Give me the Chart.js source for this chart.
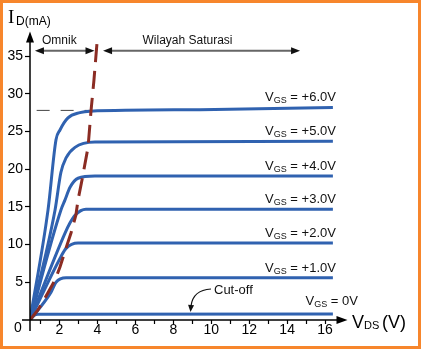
<!DOCTYPE html>
<html>
<head>
<meta charset="utf-8">
<script src="https://cdn.jsdelivr.net/npm/chart.js@4"></script>
<style>
  body { margin: 0; background: #fff; }
  #wrap { width: 422px; height: 353px; }
</style>
</head>
<body>
<div id="wrap"><canvas id="chart" width="422" height="353"></canvas></div>
<script>
// V_GS curves, [V_DS (V), I_D (mA)]
const vgsNames = ["+6.0V", "+5.0V", "+4.0V", "+3.0V", "+2.0V", "+1.0V", "0V"];
const curve6 = [[0.45, 0], [1.40, 14.6], [1.82, 23.9], [2.03, 25.2], [2.45, 26.8], [3.08, 27.5], [3.61, 27.7], [9.4, 27.9], [16.41, 28.2]];
const curve5 = [[0.45, 0], [1.77, 14.6], [2.08, 19.6], [2.35, 21.5], [2.82, 22.9], [3.87, 23.6], [16.41, 23.7]];
const curve4 = [[0.45, 0], [2.08, 14.6], [2.29, 15.9], [2.56, 17.6], [2.98, 18.8], [3.87, 19.1], [16.41, 19.1]];
const curve3 = [[0.45, 0], [2.29, 11.5], [2.56, 12.9], [2.82, 13.9], [3.40, 14.7], [16.41, 14.7]];
const curve2 = [[0.45, 0], [2.08, 8.4], [2.35, 9.5], [2.98, 10.2], [16.41, 10.2]];
const curve1 = [[0.45, 0], [1.56, 3.7], [1.82, 5.0], [2.35, 5.6], [16.41, 5.6]];
const curve0 = [[0.45, 0], [0.66, 0.6], [0.87, 0.76], [16.41, 0.8]];
const curves = [curve6, curve5, curve4, curve3, curve2, curve1, curve0];

// pinch-off boundary (dashed brown)
const pinchOff = [[0.45, 0], [0.87, 1.33], [1.24, 2.92], [1.77, 5.31], [2.03, 7.03], [2.35, 9.55], [2.61, 11.54],
  [2.87, 13.93], [2.98, 15.92], [3.19, 18.57], [3.51, 22.94], [3.66, 27.59], [3.82, 31.83], [3.98, 36.74]];
// grey dashed reference at saturation of +6V
const satRef = [[0.8, 27.8], [3.6, 27.8]];

const xTicks = [1, 2, 3, 4, 5, 6, 7, 8, 9, 10, 11, 12, 13, 14, 15, 16];
const yTicks = [5, 10, 15, 20, 25, 30, 35];

const blue = "#3062b0";
const brown = "#8b2c23";
const sans = "'Liberation Sans', Arial, sans-serif";

function arrowHead(ctx, tx, ty, dx, dy, len, half) {
  const bx = tx - dx * len, by = ty - dy * len;
  ctx.beginPath();
  ctx.moveTo(tx, ty);
  ctx.lineTo(bx - dy * half, by + dx * half);
  ctx.lineTo(bx + dy * half, by - dx * half);
  ctx.closePath();
  ctx.fill();
}

function doubleArrow(ctx, x1, x2, yy) {
  ctx.strokeStyle = "#666";
  ctx.lineWidth = 2;
  ctx.beginPath();
  ctx.moveTo(x1 + 6, yy);
  ctx.lineTo(x2 - 6, yy);
  ctx.stroke();
  ctx.fillStyle = "#111";
  arrowHead(ctx, x1, yy, -1, 0, 9, 3.5);
  arrowHead(ctx, x2, yy, 1, 0, 9, 3.5);
}

const notes = {
  id: "notes",
  beforeDraw(chart) {
    const ctx = chart.ctx;
    ctx.save();
    ctx.fillStyle = "#fff";
    ctx.fillRect(0, 0, chart.width, chart.height);
    ctx.restore();
  },
  afterDraw(chart) {
    const ctx = chart.ctx;
    const { x, y } = chart.scales;
    const x0 = x.left, y0 = y.bottom;
    ctx.save();

    // axes with arrows
    ctx.strokeStyle = "#000";
    ctx.fillStyle = "#000";
    ctx.lineWidth = 1.5;
    ctx.beginPath();
    ctx.moveTo(x0 - 8, y0);
    ctx.lineTo(x.right + 2, y0);
    ctx.moveTo(x0, y0 + 11);
    ctx.lineTo(x0, y.top + 8);
    ctx.stroke();
    arrowHead(ctx, x.right + 11, y0, 1, 0, 11, 4);
    arrowHead(ctx, x0, y.top - 2, 0, -1, 11, 4);

    // axis titles
    ctx.textBaseline = "alphabetic";
    ctx.textAlign = "left";
    ctx.font = "19px 'Liberation Serif', 'Times New Roman', serif";
    ctx.fillText("I", 8, 23);
    ctx.font = "12px " + sans;
    ctx.fillText("D(mA)", 16, 25);
    ctx.font = "18px " + sans;
    ctx.fillText("V", 352, 328);
    ctx.font = "11px " + sans;
    ctx.fillText("DS", 364, 329);
    ctx.font = "18px " + sans;
    ctx.fillText("(V)", 382, 328);
    ctx.font = "14px " + sans;
    ctx.fillText("0", 14, 332);

    // region arrows
    const ay = y.getPixelForValue(35.7);
    doubleArrow(ctx, x.getPixelForValue(0.71), x.getPixelForValue(3.85), ay);
    doubleArrow(ctx, x.getPixelForValue(4.30), x.getPixelForValue(14.68), ay);
    ctx.fillStyle = "#111";
    ctx.font = "12px " + sans;
    ctx.textBaseline = "middle";
    ctx.fillText("Omnik", x.getPixelForValue(1.08), y.getPixelForValue(37.0));
    ctx.textAlign = "center";
    ctx.fillText("Wilayah Saturasi", x.getPixelForValue(8.75), y.getPixelForValue(37.04));

    // V_GS labels
    ctx.textBaseline = "alphabetic";
    ctx.textAlign = "left";
    curves.forEach((c, i) => {
      const last = c[c.length - 1];
      const isZero = i === curves.length - 1;
      const right = x.getPixelForValue(last[0]) + (isZero ? 25 : 3);
      const base = y.getPixelForValue(last[1]) - (isZero ? 9 : 6);
      const rest = " = " + vgsNames[i];
      ctx.font = "13px " + sans;
      const wV = ctx.measureText("V").width;
      const wR = ctx.measureText(rest).width;
      ctx.font = "9px " + sans;
      const wS = ctx.measureText("GS").width;
      let sx = right - (wV + wS + wR);
      ctx.font = "13px " + sans;
      ctx.fillText("V", sx, base);
      ctx.font = "9px " + sans;
      ctx.fillText("GS", sx + wV, base + 2);
      ctx.font = "13px " + sans;
      ctx.fillText(rest, sx + wV + wS, base);
    });

    // cut-off note
    ctx.font = "13px " + sans;
    ctx.textBaseline = "middle";
    ctx.fillText("Cut-off", 214, 290);
    ctx.strokeStyle = "#111";
    ctx.lineWidth = 1.2;
    ctx.beginPath();
    ctx.moveTo(211, 289);
    ctx.quadraticCurveTo(193, 290, 191, 306);
    ctx.stroke();
    arrowHead(ctx, 190.5, 312, -0.08, 1, 7, 3);

    // orange frame
    ctx.strokeStyle = "#f7862c";
    ctx.lineWidth = 3;
    ctx.strokeRect(1.5, 1.5, 418, 346);
    ctx.restore();
  }
};

const curveSets = curves.map((c, i) => ({
  label: "VGS = " + vgsNames[i],
  data: c,
  borderColor: blue,
  borderWidth: 3,
  cubicInterpolationMode: "monotone",
  fill: false,
  order: 2
}));

new Chart(document.getElementById("chart"), {
  type: "line",
  data: {
    datasets: [
      {
        label: "pinch-off",
        data: pinchOff,
        borderColor: brown,
        borderWidth: 3,
        borderDash: [18, 9],
        tension: 0,
        fill: false,
        order: 0
      },
      {
        label: "ref",
        data: satRef,
        borderColor: "#444",
        borderWidth: 1,
        borderDash: [13, 11],
        tension: 0,
        fill: false,
        order: 3
      },
      ...curveSets
    ]
  },
  options: {
    responsive: false,
    animation: false,
    layout: { padding: { top: 33.5, right: 85.5, left: 0, bottom: 0 } },
    plugins: { legend: { display: false }, tooltip: { enabled: false } },
    elements: { point: { radius: 0 } },
    scales: {
      x: {
        type: "linear",
        min: 0.45,
        max: 16.6,
        afterFit: s => { s.height = 33; },
        afterBuildTicks: s => { s.ticks = xTicks.map(v => ({ value: v })); },
        border: { display: false },
        grid: { drawOnChartArea: false, drawTicks: true, tickLength: 4, tickColor: "#000", tickWidth: 1.2 },
        ticks: {
          autoSkip: false, maxRotation: 0, padding: -2, color: "#000",
          font: { family: sans, size: 14 },
          callback: v => (v % 2 === 0 ? String(v) : "")
        }
      },
      y: {
        type: "linear",
        min: 0,
        max: 38,
        afterFit: s => { s.width = 30; },
        afterBuildTicks: s => { s.ticks = yTicks.map(v => ({ value: v })); },
        border: { display: false },
        grid: { drawOnChartArea: false, drawTicks: true, tickLength: 5, tickColor: "#000", tickWidth: 1.2 },
        ticks: { padding: 2, color: "#000", font: { family: sans, size: 14 } }
      }
    }
  },
  plugins: [notes]
});
</script>
</body>
</html>
